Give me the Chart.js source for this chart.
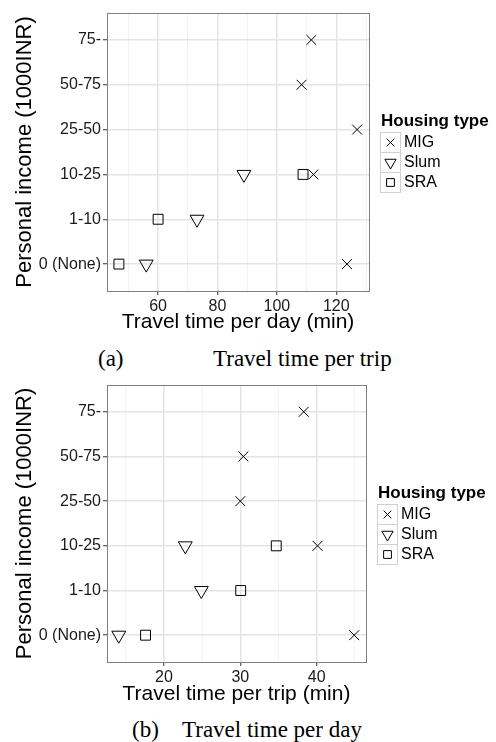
<!DOCTYPE html>
<html>
<head>
<meta charset="utf-8">
<script src="https://cdn.jsdelivr.net/npm/chart.js@4.4.1/dist/chart.umd.min.js"></script>
<style>
  body { margin: 0; background: #fff; width: 496px; height: 742px; position: relative; overflow: hidden; }
  canvas { position: absolute; left: 0; }
  #chartA { top: 0; }
  #chartB { top: 372px; }
  .cap { position: absolute; font-family: "Liberation Serif", "Times New Roman", serif; font-size: 23px; line-height: 23px; color: #000; white-space: pre; }
</style>
</head>
<body>
<canvas id="chartA" width="496" height="340"></canvas>
<canvas id="chartB" width="496" height="340"></canvas>
<span class="cap" style="left:98px; top:347px">(a)</span>
<span class="cap" style="left:213px; top:347px">Travel time per trip</span>
<span class="cap" style="left:132px; top:718px">(b)</span>
<span class="cap" style="left:182px; top:718px">Travel time per day</span>
<script>
// income categories, bottom to top
const incomeLevels = ['0 (None)', '1-10', '10-25', '25-50', '50-75', '75-'];
const housingTypes = ['MIG', 'Slum', 'SRA'];

// (a) travel time per day (min)
const dayMigTime = [111.6, 108.3, 127.0, 112.3, 123.6];
const dayMigIncome = ['75-', '50-75', '25-50', '10-25', '0 (None)'];
const daySlumTime = [56.0, 73.1, 88.9];
const daySlumIncome = ['0 (None)', '1-10', '10-25'];
const daySraTime = [46.8, 60.0, 108.8];
const daySraIncome = ['0 (None)', '1-10', '10-25'];
const dayTicks = [60, 80, 100, 120];
const dayMinorTicks = [50, 70, 90, 110, 130];

// (b) travel time per trip (min)
const tripMigTime = [38.3, 30.4, 30.0, 40.1, 44.9];
const tripMigIncome = ['75-', '50-75', '25-50', '10-25', '0 (None)'];
const tripSlumTime = [14.1, 24.9, 22.8];
const tripSlumIncome = ['0 (None)', '1-10', '10-25'];
const tripSraTime = [17.6, 30.05, 34.7];
const tripSraIncome = ['0 (None)', '1-10', '10-25'];
const tripTicks = [20, 30, 40];
const tripMinorTicks = [15, 25, 35, 45];

Chart.defaults.font.family = '"Liberation Sans", Arial, sans-serif';
Chart.defaults.color = '#1a1a1a';

const points = (times, incomes) => times.map((t, i) => ({ x: t, y: incomeLevels.indexOf(incomes[i]) }));

// draws the panel border and the ggplot style legend on the right
const housingLegend = {
  id: 'housingLegend',
  afterDraw(chart) {
    const { ctx, chartArea } = chart;
    const left = Math.round(chartArea.right) + 11;
    const mid = Math.round((chartArea.top + chartArea.bottom) / 2);
    ctx.save();
    ctx.strokeStyle = '#7f7f7f';
    ctx.lineWidth = 1;
    ctx.strokeRect(Math.round(chartArea.left) + 0.5, Math.round(chartArea.top) + 0.5,
      Math.round(chartArea.right - chartArea.left), Math.round(chartArea.bottom - chartArea.top));

    ctx.textBaseline = 'middle';
    ctx.textAlign = 'left';
    ctx.fillStyle = '#000';
    ctx.font = 'bold 17px "Liberation Sans", Arial, sans-serif';
    ctx.fillText('Housing type', left + 1, mid - 31);

    chart.data.datasets.forEach((ds, i) => {
      const top = mid - 20 + i * 20;
      ctx.strokeStyle = '#d0d0d0';
      ctx.strokeRect(left + 0.5, top + 0.5, 20, 20);
      ctx.strokeStyle = '#000';
      ctx.fillStyle = 'rgba(0,0,0,0)';
      Chart.helpers.drawPoint(ctx, {
        pointStyle: ds.pointStyle, rotation: ds.pointRotation || 0,
        radius: ds.legendRadius, borderWidth: 1
      }, left + 10.5, top + 10.5);
      ctx.fillStyle = '#000';
      ctx.font = '16px "Liberation Sans", Arial, sans-serif';
      ctx.fillText(ds.label, left + 24, top + 11);
    });
    ctx.restore();
  }
};

function makeChart(id, series, majorTicks, minorTicks, xTitle, plotBottom, plotRight) {
  const allX = series.flatMap(s => s.data.map(p => p.x));
  const lo = Math.min(...allX), hi = Math.max(...allX);
  const pad = (hi - lo) * 0.05;
  const canvas = document.getElementById(id);

  return new Chart(canvas, {
    type: 'scatter',
    data: {
      datasets: series.map(s => ({
        label: s.label,
        data: s.data,
        pointStyle: s.style,
        pointRotation: s.rotation || 0,
        pointRadius: s.radius,
        legendRadius: s.legendRadius,
        borderColor: '#000',
        backgroundColor: 'rgba(0,0,0,0)',
        pointBorderWidth: 1
      }))
    },
    options: {
      responsive: false,
      animation: false,
      events: [],
      layout: { padding: { top: 13, left: 0, right: 496 - plotRight, bottom: 0 } },
      plugins: { legend: { display: false }, tooltip: { enabled: false } },
      scales: {
        x: {
          type: 'linear',
          min: lo - pad,
          max: hi + pad,
          afterBuildTicks: s => {
            s.ticks = majorTicks.concat(minorTicks).sort((a, b) => a - b).map(v => ({ value: v }));
          },
          afterFit: s => { s.height = canvas.height - plotBottom; },
          ticks: {
            autoSkip: false, maxRotation: 0, padding: 2,
            font: { size: 16 },
            callback: v => majorTicks.includes(v) ? String(v) : ''
          },
          grid: {
            color: c => majorTicks.includes(c.tick.value) ? '#e4e4e4' : '#f3f3f3',
            lineWidth: c => majorTicks.includes(c.tick.value) ? 1.5 : 1,
            tickColor: c => majorTicks.includes(c.tick.value) ? '#333' : 'rgba(0,0,0,0)',
            tickWidth: 1,
            tickLength: 4
          },
          border: { display: false },
          title: {
            display: true, text: xTitle, color: '#000',
            font: { size: 21 }, padding: { top: 0, bottom: 5 }
          }
        },
        y: {
          type: 'linear',
          min: -0.6,
          max: incomeLevels.length - 1 + 0.6,
          afterBuildTicks: s => { s.ticks = incomeLevels.map((_, i) => ({ value: i })); },
          afterFit: s => { s.width = 107; },
          ticks: {
            autoSkip: false, padding: 2,
            font: { size: 16 },
            callback: v => incomeLevels[v]
          },
          grid: { color: '#e4e4e4', lineWidth: 1.5, tickColor: '#333', tickWidth: 1, tickLength: 4 },
          border: { display: false },
          title: {
            display: true, text: 'Personal income (1000INR)', color: '#000',
            font: { size: 22 }, padding: { top: 12, bottom: 0 }
          }
        }
      }
    },
    plugins: [housingLegend]
  });
}

makeChart('chartA', [
  { label: housingTypes[0], data: points(dayMigTime, dayMigIncome), style: 'crossRot', radius: 7, legendRadius: 5.5 },
  { label: housingTypes[1], data: points(daySlumTime, daySlumIncome), style: 'triangle', rotation: 180, radius: 8, legendRadius: 6.5 },
  { label: housingTypes[2], data: points(daySraTime, daySraIncome), style: 'rect', radius: 7, legendRadius: 5.5 }
], dayTicks, dayMinorTicks, 'Travel time per day (min)', 291, 369);

makeChart('chartB', [
  { label: housingTypes[0], data: points(tripMigTime, tripMigIncome), style: 'crossRot', radius: 7, legendRadius: 5.5 },
  { label: housingTypes[1], data: points(tripSlumTime, tripSlumIncome), style: 'triangle', rotation: 180, radius: 8, legendRadius: 6.5 },
  { label: housingTypes[2], data: points(tripSraTime, tripSraIncome), style: 'rect', radius: 7, legendRadius: 5.5 }
], tripTicks, tripMinorTicks, 'Travel time per trip (min)', 290, 366);
</script>
</body>
</html>
